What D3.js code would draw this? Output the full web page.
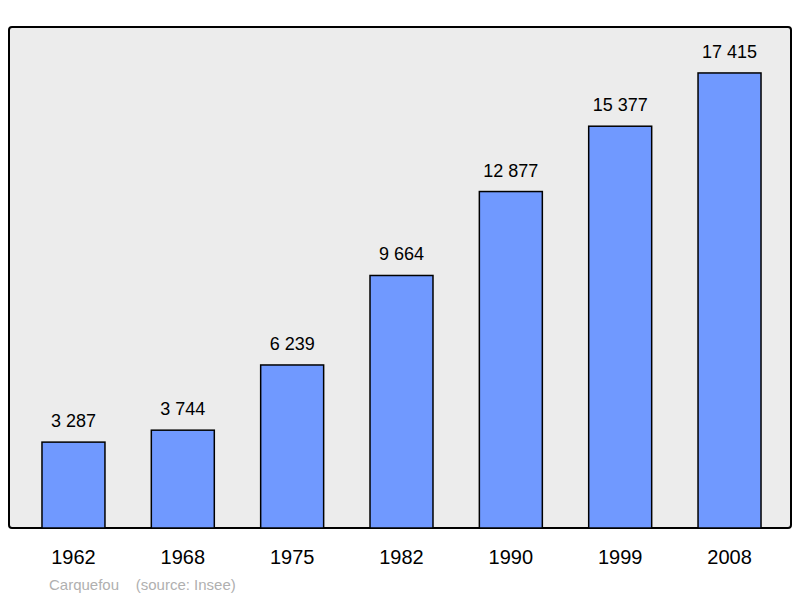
<!DOCTYPE html>
<html><head><meta charset="utf-8">
<script src="https://cdn.jsdelivr.net/npm/d3@7"></script>
<style>body{margin:0;background:#fff}</style></head>
<body><svg id="c" width="800" height="598"></svg>
<script>
const years = ["1962","1968","1975","1982","1990","1999","2008"];
const population = [3287,3744,6239,9664,12877,15377,17415];
const svg = d3.select("#c");
const font = "Liberation Sans, Arial, sans-serif";
svg.append("rect").attr("x",9).attr("y",27).attr("width",782).attr("height",501)
  .attr("rx",3).attr("fill","#ececec").attr("stroke","#000").attr("stroke-width",2);
const x = d3.scaleBand().domain(years).range([18.8,784.2]).paddingInner(0.424).paddingOuter(0.212);
const y = d3.scaleLinear().domain([0,19174]).range([528,27]);
const data = years.map((yr,i)=>({yr,v:population[i]}));
svg.selectAll(".bar").data(data).enter().append("rect")
  .attr("x",d=>x(d.yr)).attr("width",x.bandwidth())
  .attr("y",d=>y(d.v)).attr("height",d=>528-y(d.v))
  .attr("fill","#7099ff").attr("stroke","#000").attr("stroke-width",1.5);
svg.selectAll(".val").data(data).enter().append("text")
  .attr("x",d=>x(d.yr)+x.bandwidth()/2).attr("y",d=>y(d.v)-15)
  .attr("text-anchor","middle").attr("font-family",font).attr("font-size",18)
  .text(d=>d3.format(",")(d.v).replace(","," "));
svg.selectAll(".yr").data(years).enter().append("text")
  .attr("x",d=>x(d)+x.bandwidth()/2).attr("y",564)
  .attr("text-anchor","middle").attr("font-family",font).attr("font-size",20).text(d=>d);
svg.append("text").attr("x",49).attr("y",590).attr("font-family",font).attr("font-size",15)
  .attr("fill","#b0b0b0").attr("xml:space","preserve").text("Carquefou    (source: Insee)");
</script></body></html>
